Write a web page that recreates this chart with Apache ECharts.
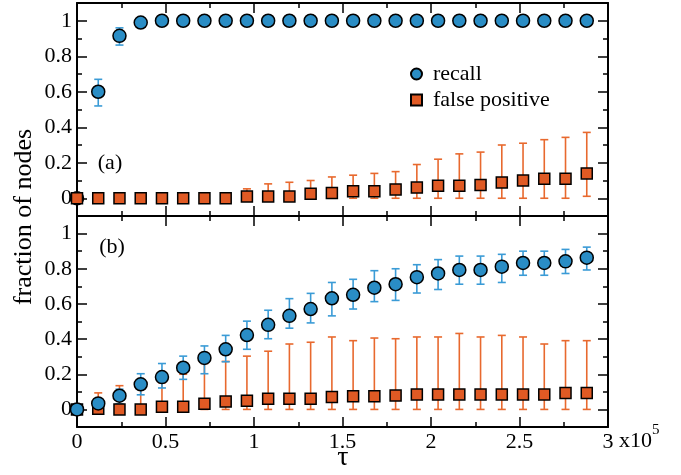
<!DOCTYPE html>
<html lang="en">
<head>
    <meta charset="utf-8">
    <title>recall / false positive vs tau</title>
    <script type="text/javascript" src="https://cdn.jsdelivr.net/npm/echarts@6/dist/echarts.min.js"></script>
    <style>
        html, body { margin: 0; padding: 0; background: #fff; }
        #main { width: 681px; height: 475px; }
    </style>
</head>
<body>
<div id="main"></div>

<script>
    // tau values (x axis, shown in units of 1e5)
    var tau = [0, 12000, 24000, 36000, 48000, 60000, 72000, 84000, 96000, 108000,
        120000, 132000, 144000, 156000, 168000, 180000, 192000, 204000, 216000, 228000,
        240000, 252000, 264000, 276000, 288000];

    // panel (a)
    var recallA   = [0, 0.60, 0.915, 0.99, 1, 1, 1, 1, 1, 1, 1, 1, 1, 1, 1, 1, 1, 1, 1, 1, 1, 1, 1, 1, 1];
    var recallALo = [0, 0.52, 0.863, 0.99, 1, 1, 1, 1, 1, 1, 1, 1, 1, 1, 1, 1, 1, 1, 1, 1, 1, 1, 1, 1, 1];
    var recallAHi = [0, 0.67, 0.96, 0.99, 1, 1, 1, 1, 1, 1, 1, 1, 1, 1, 1, 1, 1, 1, 1, 1, 1, 1, 1, 1, 1];
    var falseA    = [0, 0, 0, 0, 0, 0, 0, 0, 0.01, 0.01, 0.01, 0.025, 0.03, 0.04, 0.04, 0.05, 0.06, 0.07, 0.07, 0.075, 0.089, 0.10, 0.11, 0.11, 0.14];
    var falseALo  = [0, 0, 0, 0, 0, 0, 0, 0, 0, 0, 0, 0, 0, 0, 0, 0, 0, 0, 0, 0, 0, 0, 0, 0, 0.011];
    var falseAHi  = [0, 0, 0, 0, 0, 0, 0.02, 0.03, 0.053, 0.081, 0.09, 0.10, 0.12, 0.13, 0.14, 0.15, 0.19, 0.22, 0.25, 0.26, 0.30, 0.31, 0.33, 0.343, 0.371];

    // panel (b)
    var recallB   = [0, 0.034, 0.078, 0.143, 0.184, 0.237, 0.293, 0.342, 0.423, 0.481, 0.532, 0.571, 0.632, 0.652, 0.692, 0.712, 0.752, 0.773, 0.793, 0.793, 0.812, 0.833, 0.833, 0.842, 0.863];
    var recallBLo = [0, 0.005, 0.032, 0.083, 0.122, 0.171, 0.203, 0.271, 0.342, 0.402, 0.462, 0.492, 0.532, 0.571, 0.613, 0.62, 0.662, 0.682, 0.712, 0.712, 0.722, 0.763, 0.763, 0.773, 0.793];
    var recallBHi = [0, 0.06, 0.115, 0.203, 0.261, 0.303, 0.361, 0.421, 0.502, 0.564, 0.63, 0.66, 0.722, 0.74, 0.789, 0.80, 0.823, 0.852, 0.872, 0.872, 0.882, 0.90, 0.90, 0.91, 0.923];
    var falseB    = [0, 0.004, 0, 0, 0.015, 0.015, 0.032, 0.045, 0.05, 0.06, 0.06, 0.06, 0.07, 0.075, 0.075, 0.079, 0.085, 0.085, 0.085, 0.085, 0.085, 0.085, 0.085, 0.094, 0.094];
    var falseBLo  = [0, 0, 0, 0, 0, 0, 0, 0, 0, 0, 0, 0, 0, 0, 0, 0, 0, 0, 0, 0, 0, 0, 0, 0, 0];
    var falseBHi  = [0, 0.094, 0.135, 0.16, 0.152, 0.2, 0.261, 0.273, 0.303, 0.331, 0.372, 0.382, 0.412, 0.391, 0.406, 0.402, 0.412, 0.412, 0.432, 0.412, 0.421, 0.412, 0.372, 0.391, 0.391];

    // tick positions
    var xMajor = [0, 50000, 100000, 150000, 200000, 250000, 300000];
    var xMinor = [25000, 75000, 125000, 175000, 225000, 275000];
    var yMajor = [0, 0.2, 0.4, 0.6, 0.8, 1];
    var yMinor = [0.1, 0.3, 0.5, 0.7, 0.9];

    var FONT = 'Liberation Serif';
    var BLUE = '#2a8dc5', BLUE_ERR = '#3a9bd6';
    var ORANGE = '#e05a24', ORANGE_ERR = '#e8692e';

    var chart = echarts.init(document.getElementById('main'));

    function pairs(ys) {
        return tau.map(function (t, i) { return [t, ys[i]]; });
    }
    function bars(lo, hi) {
        return tau.map(function (t, i) { return [t, lo[i], hi[i]]; });
    }

    function xAx(grid, pos, ticks, major, labels) {
        return {
            type: 'value', gridIndex: grid, position: pos, min: 0, max: 300000,
            axisLine: {show: major, onZero: false, lineStyle: {color: '#000', width: 2}},
            axisTick: {show: true, inside: true, length: major ? 10 : 5, customValues: ticks,
                lineStyle: {color: '#000', width: 1.5}},
            axisLabel: {show: labels, customValues: ticks, margin: 4, color: '#000',
                fontFamily: FONT, fontSize: 22,
                formatter: function (v) { return String(v / 1e5); }},
            splitLine: {show: false}
        };
    }
    function yAx(grid, pos, ticks, major, labels) {
        return {
            type: 'value', gridIndex: grid, position: pos, min: -0.1, max: 1.1,
            axisLine: {show: major, onZero: false, lineStyle: {color: '#000', width: 2}},
            axisTick: {show: true, inside: true, length: major ? 10 : 5, customValues: ticks,
                lineStyle: {color: '#000', width: 1.5}},
            axisLabel: {show: labels, customValues: ticks, margin: 5, color: '#000',
                fontFamily: FONT, fontSize: 22},
            splitLine: {show: false}
        };
    }

    function errRender(color) {
        return function (params, api) {
            var x = api.value(0), lo = api.value(1), hi = api.value(2);
            if (hi - lo < 1e-6) return null;
            var a = api.coord([x, lo]), b = api.coord([x, hi]);
            var w = 4;
            var st = {stroke: color, lineWidth: 1.6};
            return {
                type: 'group', children: [
                    {type: 'line', shape: {x1: a[0], y1: a[1], x2: b[0], y2: b[1]}, style: st},
                    {type: 'line', shape: {x1: a[0] - w, y1: a[1], x2: a[0] + w, y2: a[1]}, style: st},
                    {type: 'line', shape: {x1: b[0] - w, y1: b[1], x2: b[0] + w, y2: b[1]}, style: st}
                ]
            };
        };
    }

    function errSeries(name, xi, yi, lo, hi, color) {
        return {
            name: name, type: 'custom', xAxisIndex: xi, yAxisIndex: yi, z: 2,
            renderItem: errRender(color), data: bars(lo, hi), silent: true
        };
    }
    function recallSeries(xi, yi, ys, z) {
        return {
            name: 'recall', type: 'scatter', xAxisIndex: xi, yAxisIndex: yi, z: z,
            symbol: 'circle', symbolSize: 13, data: pairs(ys),
            itemStyle: {color: BLUE, borderColor: '#000', borderWidth: 1.5, opacity: 1}
        };
    }
    function falseSeries(xi, yi, ys, z) {
        return {
            name: 'false positive', type: 'scatter', xAxisIndex: xi, yAxisIndex: yi, z: z,
            symbol: 'rect', symbolSize: 11, data: pairs(ys),
            itemStyle: {color: ORANGE, borderColor: '#000', borderWidth: 1.5, opacity: 1}
        };
    }

    var option = {
        animation: false,
        backgroundColor: '#fff',
        grid: [
            {left: 77, top: 3, width: 531, height: 213, outerBoundsMode: 'none'},
            {left: 77, top: 216, width: 531, height: 211, outerBoundsMode: 'none'},
            {left: 77, top: 3, width: 531, height: 213, outerBoundsMode: 'none'},
            {left: 77, top: 216, width: 531, height: 211, outerBoundsMode: 'none'}
        ],
        xAxis: [
            xAx(0, 'bottom', xMajor, true, false),
            xAx(0, 'top', xMajor, true, false),
            xAx(1, 'bottom', xMajor, true, true),
            xAx(1, 'top', xMajor, true, false),
            xAx(2, 'bottom', xMinor, false, false),
            xAx(2, 'top', xMinor, false, false),
            xAx(3, 'bottom', xMinor, false, false),
            xAx(3, 'top', xMinor, false, false)
        ],
        yAxis: [
            yAx(0, 'left', yMajor, true, true),
            yAx(0, 'right', yMajor, true, false),
            yAx(1, 'left', yMajor, true, true),
            yAx(1, 'right', yMajor, true, false),
            yAx(2, 'left', yMinor, false, false),
            yAx(2, 'right', yMinor, false, false),
            yAx(3, 'left', yMinor, false, false),
            yAx(3, 'right', yMinor, false, false)
        ],
        legend: {
            data: ['recall', 'false positive'],
            orient: 'vertical', left: 405, top: 58,
            itemWidth: 11, itemHeight: 11, itemGap: 4,
            textStyle: {fontFamily: FONT, fontSize: 22, color: '#000', padding: [0, 0, 0, 6]}
        },
        graphic: [
            {type: 'text', x: 24, y: 217, rotation: Math.PI / 2,
                style: {text: 'fraction of nodes', fontFamily: FONT, fontSize: 26, fill: '#000',
                    textAlign: 'center', textVerticalAlign: 'middle'}},
            {type: 'text', x: 343, y: 458,
                style: {text: 'τ', fontFamily: FONT, fontSize: 28, fill: '#000',
                    textAlign: 'center', textVerticalAlign: 'middle'}},
            {type: 'text', x: 110, y: 163,
                style: {text: '(a)', fontFamily: FONT, fontSize: 22, fill: '#000',
                    textAlign: 'center', textVerticalAlign: 'middle'}},
            {type: 'text', x: 112, y: 247,
                style: {text: '(b)', fontFamily: FONT, fontSize: 22, fill: '#000',
                    textAlign: 'center', textVerticalAlign: 'middle'}},
            {type: 'text', x: 619, y: 441,
                style: {text: 'x10', fontFamily: FONT, fontSize: 22, fill: '#000',
                    textAlign: 'left', textVerticalAlign: 'middle'}},
            {type: 'text', x: 652, y: 430,
                style: {text: '5', fontFamily: FONT, fontSize: 15, fill: '#000',
                    textAlign: 'left', textVerticalAlign: 'middle'}}
        ],
        series: [
            errSeries('fp err a', 0, 0, falseALo, falseAHi, ORANGE_ERR),
            errSeries('recall err a', 0, 0, recallALo, recallAHi, BLUE_ERR),
            recallSeries(0, 0, recallA, 3),
            falseSeries(0, 0, falseA, 4),
            errSeries('fp err b', 2, 2, falseBLo, falseBHi, ORANGE_ERR),
            errSeries('recall err b', 2, 2, recallBLo, recallBHi, BLUE_ERR),
            falseSeries(2, 2, falseB, 3),
            recallSeries(2, 2, recallB, 4)
        ]
    };
    chart.setOption(option);
</script>
</body>
</html>
